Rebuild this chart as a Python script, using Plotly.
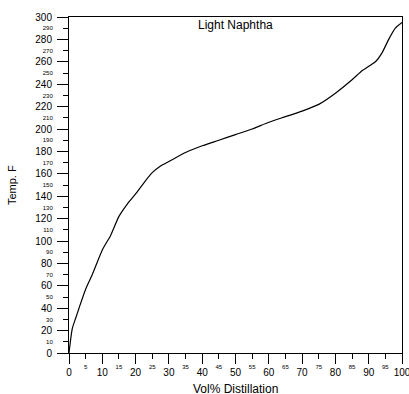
import plotly.graph_objects as go

# Distillation curve data
vol_pct = [0, 1, 2, 3, 5, 7, 10, 12.5, 15, 17.5, 20, 22.5, 25, 27.5, 30, 35, 40,
           45, 50, 55, 60, 65, 70, 75, 80, 85, 88, 90, 92, 94, 96, 98, 100]
temp_f = [0, 22, 31, 40, 57, 70, 92, 105, 122, 133, 142, 152, 161, 167, 171, 179, 185,
          190, 195, 200, 206, 211, 216, 222, 232, 244, 252, 256, 260, 268, 280, 290, 295]

x_major = list(range(0, 101, 10))
x_minor = list(range(5, 100, 10))
y_major = list(range(0, 301, 20))
y_minor = list(range(10, 300, 20))

title_text = "Light Naphtha"
x_title = "Vol% Distillation"
y_title = "Temp. F"

FONT = "Liberation Sans, Arial, sans-serif"

fig = go.Figure()
fig.add_trace(go.Scatter(x=vol_pct, y=temp_f, mode="lines",
                         line=dict(color="black", width=1.2, shape="spline", smoothing=0.6),
                         hoverinfo="skip", showlegend=False))
# invisible trace to activate the minor-label axes
fig.add_trace(go.Scatter(x=vol_pct, y=temp_f, mode="lines", xaxis="x2", yaxis="y2",
                         line=dict(color="rgba(0,0,0,0)", width=0),
                         hoverinfo="skip", showlegend=False))

common = dict(showgrid=False, zeroline=False, ticks="outside", tickcolor="black",
              tickwidth=1, automargin=False, ticklabeloverflow="allow")

fig.update_layout(
    width=409, height=394,
    margin=dict(l=69, r=7, t=17, b=41),
    paper_bgcolor="white", plot_bgcolor="white",
    font=dict(family=FONT, color="black"),
    xaxis=dict(range=[0, 100], tickvals=x_major, ticktext=[str(v) for v in x_major],
               ticklen=10, tickfont=dict(size=10, family=FONT),
               showline=True, mirror=True, linecolor="black", linewidth=1, **common),
    yaxis=dict(range=[0, 300], tickvals=y_major, ticktext=[str(v) for v in y_major],
               ticklen=11, ticklabelstandoff=3, tickfont=dict(size=10, family=FONT),
               showline=True, mirror=True, linecolor="black", linewidth=1, **common),
    xaxis2=dict(range=[0, 100], overlaying="x", anchor="y2", side="bottom",
                tickvals=x_minor, ticktext=[str(v) for v in x_minor],
                ticklen=5, ticklabelstandoff=3, tickfont=dict(size=6, family=FONT),
                showline=False, **common),
    yaxis2=dict(range=[0, 300], overlaying="y", anchor="x2", side="left",
                tickvals=y_minor, ticktext=[str(v) for v in y_minor],
                ticklen=5, ticklabelstandoff=9, tickfont=dict(size=6, family=FONT),
                showline=False, **common),
    annotations=[
        dict(text=title_text, xref="x", yref="paper", x=50, y=1, xanchor="center",
             yanchor="top", showarrow=False, font=dict(size=12, family=FONT), yshift=1),
        dict(text=x_title, xref="paper", yref="paper", x=0.5, y=-0.083, xanchor="center",
             yanchor="top", showarrow=False, font=dict(size=12, family=FONT), yshift=1),
        dict(text=y_title, xref="paper", yref="paper", x=-0.171, y=0.5, xanchor="center",
             yanchor="middle", textangle=-90, showarrow=False, font=dict(size=11, family=FONT)),
    ],
)

fig.write_html("out.html", config={"displayModeBar": False},
               post_script="document.body.style.margin='0';document.body.style.padding='0';")
